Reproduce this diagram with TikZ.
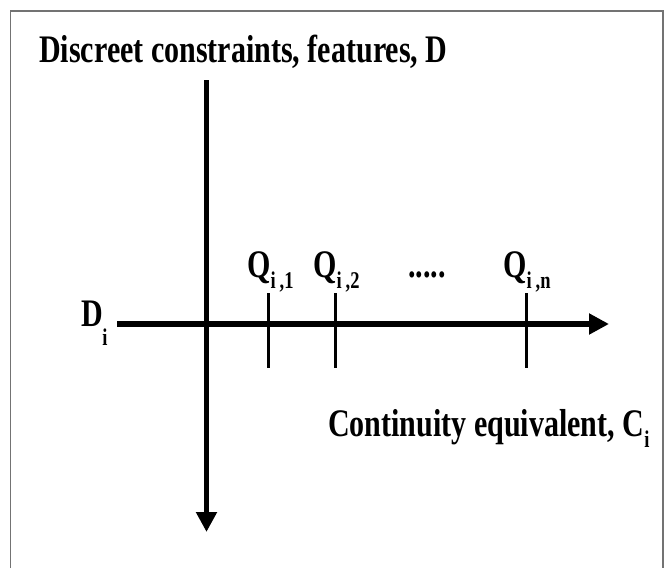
\documentclass[tikz,border=0pt]{standalone}
\usepackage{fontspec}
\setmainfont{Liberation Serif}[FakeStretch=0.77]
\usetikzlibrary{arrows.meta}

\newcommand{\lowidx}[1]{\raisebox{-0.3em}{\fontsize{24}{24}\selectfont #1}}

\begin{document}
\begin{tikzpicture}[x=1pt,y=-1pt,
    lbl/.style={font=\bfseries\fontsize{39}{46}\selectfont,inner sep=0pt,anchor=base west},
    axis/.style={line width=5.5pt,-{Triangle[length=20pt,width=20pt]}},
    qtick/.style={line width=3pt}]
    \useasboundingbox (0,0) rectangle (672,568);
    \draw[black!55,line width=1.2pt] (10.7,568) -- (10.7,11) -- (663,11) -- (663,568);

    \node[lbl] (title) at (39,62.5) {Discreet constraints, features, D};

    % axes
    \coordinate (vtop) at (206.5,80);
    \coordinate (vend) at (206.5,532);
    \coordinate (hbeg) at (117,324);
    \coordinate (hend) at (609,324);
    \draw[axis] (vtop) -- (vend);
    \draw[axis] (hbeg) -- (hend);

    % marks on the axis
    \coordinate (t1a) at (268.3,293); \coordinate (t1b) at (268.3,368);
    \coordinate (t2a) at (335.7,293); \coordinate (t2b) at (335.7,368);
    \coordinate (tna) at (526.7,293); \coordinate (tnb) at (526.7,368);
    \draw[qtick] (t1a) -- (t1b);
    \draw[qtick] (t2a) -- (t2b);
    \draw[qtick] (tna) -- (tnb);

    \node[lbl] (q1) at (247,277) {Q\lowidx{i\,,1}};
    \node[lbl] (q2) at (313,277) {Q\lowidx{i\,,2}};
    \node[lbl] (qdots) at (408,277) {.....};
    \node[lbl] (qn) at (503,277) {Q\lowidx{i\,,n}};

    \node[lbl] (di) at (81,326) {D\kern-0.5pt\raisebox{-19pt}{\fontsize{24}{24}\selectfont i}};
    \node[lbl] (ci) at (328,436) {Continuity equivalent, C\lowidx{i}};
\end{tikzpicture}
\end{document}
